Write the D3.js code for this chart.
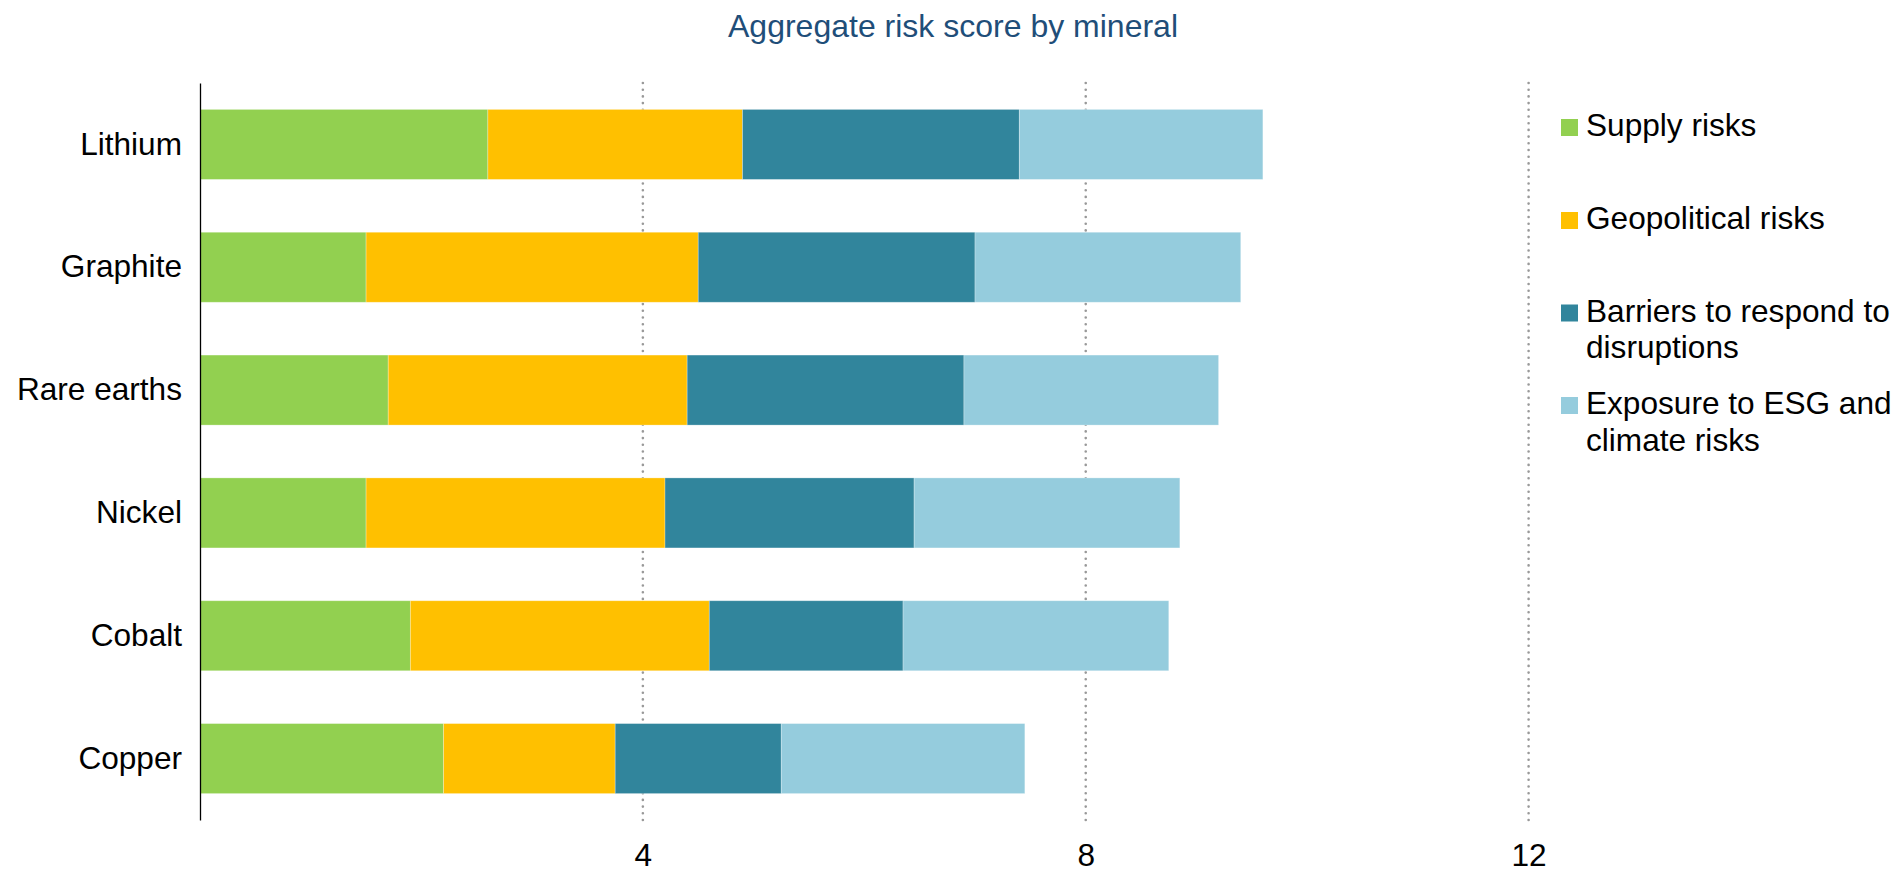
<!DOCTYPE html>
<html>
<head>
<meta charset="utf-8">
<script src="https://cdn.jsdelivr.net/npm/d3@7"></script>
<style>
  html, body { margin: 0; padding: 0; background: #fff; }
  svg { display: block; font-family: "Liberation Sans", Arial, sans-serif; }
</style>
</head>
<body>
<svg id="chart" width="1899" height="872"></svg>
<script>
const categories = ["Lithium", "Graphite", "Rare earths", "Nickel", "Cobalt", "Copper"];
const seriesNames = ["Supply risks", "Geopolitical risks", "Barriers to respond to disruptions", "Exposure to ESG and climate risks"];
const legendLines = [["Supply risks"], ["Geopolitical risks"], ["Barriers to respond to", "disruptions"], ["Exposure to ESG and", "climate risks"]];
const supply       = [2.60, 1.50, 1.70, 1.50, 1.90, 2.20];
const geopolitical = [2.30, 3.00, 2.70, 2.70, 2.70, 1.55];
const barriers     = [2.50, 2.50, 2.50, 2.25, 1.75, 1.50];
const exposure     = [2.20, 2.40, 2.30, 2.40, 2.40, 2.20];
const tickValues = [4, 8, 12];
const colors = ["#92D050", "#FFC000", "#31859C", "#95CCDD"];
const title = "Aggregate risk score by mineral";

const svg = d3.select("#chart");
const FS = 31.6;

const x = d3.scaleLinear().domain([0, 12]).range([200, 1528.6]);
const y = d3.scaleBand().domain(categories).range([83, 820]).paddingInner(0.43).paddingOuter(0.215);

const table = categories.map((c, i) => ({ cat: c, 0: supply[i], 1: geopolitical[i], 2: barriers[i], 3: exposure[i] }));
const stacked = d3.stack().keys([0, 1, 2, 3])(table);

// title
svg.append("text").attr("x", 953).attr("y", 37).attr("text-anchor", "middle")
  .attr("font-size", 32).attr("fill", "#1F4E79").text(title);

// gridlines
svg.append("g").selectAll("line").data(tickValues).join("line")
  .attr("x1", d => x(d)).attr("x2", d => x(d))
  .attr("y1", 83).attr("y2", 820)
  .attr("stroke", "#999").attr("stroke-width", 2.6)
  .attr("stroke-dasharray", "0,6.7").attr("stroke-linecap", "round");

// bars
svg.append("g").selectAll("g").data(stacked).join("g")
  .attr("fill", d => colors[d.key])
  .selectAll("rect").data(d => d).join("rect")
  .attr("x", d => x(d[0])).attr("width", d => x(d[1]) - x(d[0]))
  .attr("y", d => y(d.data.cat)).attr("height", y.bandwidth())
  .attr("stroke", "rgba(255,255,255,0.35)").attr("stroke-width", 0.8);

// x axis labels
const xAxis = d3.axisBottom(x).tickValues(tickValues).tickSize(0).tickPadding(0);
const gx = svg.append("g").attr("transform", "translate(0,844)").call(xAxis);
gx.select(".domain").remove();
gx.selectAll("text").attr("font-size", FS).attr("fill", "#000")
  .attr("font-family", "'Liberation Sans', Arial, sans-serif").attr("dy", "0.71em");

// y axis
const yAxis = d3.axisLeft(y).tickSize(0).tickPadding(18);
const gy = svg.append("g").attr("transform", "translate(200,0)").call(yAxis);
gy.select(".domain").attr("stroke", "#000").attr("stroke-width", 1.3);
gy.selectAll("text").attr("font-size", FS).attr("fill", "#000")
  .attr("font-family", "'Liberation Sans', Arial, sans-serif");

// legend
const legendY = [136, 229, 321.5, 414];
const lg = svg.append("g");
legendLines.forEach((lines, i) => {
  lg.append("rect").attr("x", 1561).attr("y", legendY[i] - 17).attr("width", 17).attr("height", 17).attr("fill", colors[i]);
  const t = lg.append("text").attr("x", 1586).attr("y", legendY[i]).attr("font-size", FS).attr("fill", "#000");
  lines.forEach((ln, j) => t.append("tspan").attr("x", 1586).attr("dy", j === 0 ? 0 : 36.7).text(ln));
});
</script>
</body>
</html>
